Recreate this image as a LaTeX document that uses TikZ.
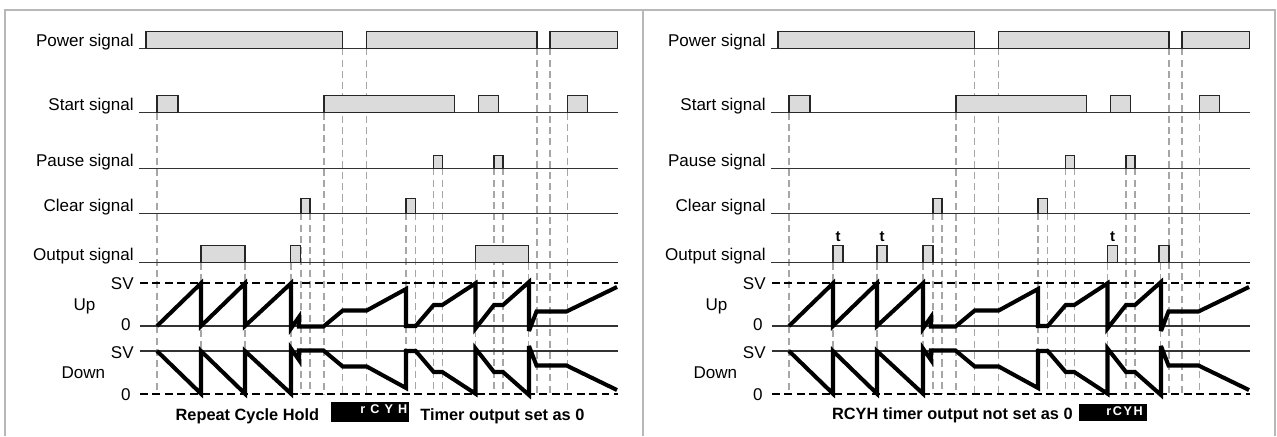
\documentclass[tikz,border=0pt]{standalone}
\usepackage{fontspec}
\setmainfont{Liberation Sans}
\newfontfamily\segfont{Liberation Sans}
% counter path of the up-counting timer (reference panel coordinates, in px)
\def\upcount{(157,326) -- (201,283.3) -- (201,326) -- (245,283.3) -- (245,326) -- (291,283.3) -- (291,328.5) -- (299,317) -- (299,326.5) -- (323.5,326.5) -- (342.7,310.5) -- (366.7,310.5) -- (406,289) -- (406,326) -- (415.7,326) -- (433.7,305) -- (442.3,305) -- (475.5,283.3) -- (475.5,328.5) -- (494,305) -- (503,305) -- (529,282) -- (529,331) -- (536.5,311.5) -- (566.5,311.5) -- (617,287)}
\begin{document}
\begin{tikzpicture}[x=0.02cm, y=-0.02cm,
  every node/.style={font=\fontsize{9.7}{11}\selectfont, inner sep=0pt},
  frame/.style={draw=black!28, line width=1.1pt},
  sig/.style={draw=black!80, line width=0.8pt},
  pulse/.style={draw=black!85, fill=black!14, line width=0.8pt},
  guide/.style={draw=black!35, line width=0.85pt, dash pattern=on 4pt off 2.4pt},
  level/.style={draw=black, line width=1.1pt, dash pattern=on 4.5pt off 2.6pt},
  count/.style={draw=black, line width=2.3pt, line join=miter, miter limit=4},
  capt/.style={font=\fontsize{9.3}{11}\selectfont\bfseries, anchor=base west},
  seg/.style={font=\fontsize{7.2}{8}\segfont\bfseries, text=white, anchor=north east}]
\useasboundingbox (0,0) rectangle (1277,436);
% outer frame and divider
\draw[frame] (5,436) -- (5,10) -- (1275,10) -- (1275,436);
\draw[frame] (643.3,10) -- (643.3,436);
% parts shared by both panels
\foreach \px in {0,632}{
\begin{scope}[shift={(\px,0)}]
  % guide lines down from the signal edges
  \foreach \gx/\gy in {157/112.7, 201/262.7, 245/262.7, 291/262.7, 301/213.3, 310/213.3, 324/112.7,
      342.7/48.3, 366.7/48.3, 406/213.3, 415.7/213.3, 433.7/168.3, 442.3/168.3, 475.5/262.7,
      494/168.3, 503/168.3, 528.5/262.7, 537/48.3, 550/48.3, 567.3/112.7}
    \draw[guide] (\gx,\gy) -- (\gx,394.3);
  % signal rows
  \foreach \nm/\lab/\yb in {pw/Power/48.3, st/Start/112.7, ps/Pause/168.3, cl/Clear/213.3, out/Output/262.7}{
    \node[anchor=base east] (\nm\px) at (134,\yb-2) {\lab\ signal};
    \draw[sig] (139,\yb) -- (618,\yb);}
  \foreach \ya/\yb/\xa/\xb in {31.7/48.3/146/342.7, 31.7/48.3/366.7/537, 31.7/48.3/550/617.3,
      95.7/112.7/157/178, 95.7/112.7/324/454.3, 95.7/112.7/478.3/498.3, 95.7/112.7/567.3/587.3,
      155.3/168.3/433.7/442.3, 155.3/168.3/494/503,
      198.3/213.3/301/310, 198.3/213.3/406/415.7}
    \draw[pulse] (\xa,\yb) rectangle (\xb,\ya);
  % counter levels
  \node[anchor=east] (svu\px) at (134,283.3) {SV};
  \node (up\px) at (84.5,306.7) {Up};
  \node[anchor=east] (zu\px) at (131,325) {0};
  \draw[level] (140,283.3) -- (618,283.3);
  \draw[sig] (140,326) -- (618,326);
  \node[anchor=east] (svd\px) at (134,353) {SV};
  \node (dn\px) at (83.3,372.7) {Down};
  \node[anchor=east] (zd\px) at (131,395) {0};
  \draw[sig] (140,351) -- (618,351);
  \draw[level] (140,394.3) -- (618,394.3);
  \draw[count] \upcount;
  \begin{scope}[shift={(0,677)}, yscale=-1]
    \draw[count] \upcount;
  \end{scope}
\end{scope}}
% left panel: output held over the cycle
\foreach \xa/\xb in {201/245, 290.7/300.3, 475.5/528.5}
  \draw[pulse] (\xa,262.7) rectangle (\xb,245.7);
\node[capt, anchor=base east] (rch) at (319.5,420.5) {Repeat Cycle Hold};
\fill (331,402.3) rectangle (408.7,422.3);
\node[seg] (segL) at (407.5,404.5) {\addfontfeatures{LetterSpace=40}rCYH};
\node[capt] (setz) at (420,420.5) {Timer output set as 0};
% right panel: output pulses of time t
\begin{scope}[shift={(632,0)}]
  \foreach \xa/\xb in {201/211, 245/255, 291/301, 475.5/485.5, 527/537}
    \draw[pulse] (\xa,262.7) rectangle (\xb,245.7);
  \foreach \nm/\tx in {ta/206, tb/250, tc/480.5}
    \node[font=\fontsize{8.5}{10}\selectfont\bfseries, anchor=base] (\nm) at (\tx,241.5) {t};
\end{scope}
\node[capt] (nset) at (831.7,419.5) {RCYH timer output not set as 0};
\fill (1079.3,404) rectangle (1146.7,421);
\node[seg] (segR) at (1143,406) {\addfontfeatures{LetterSpace=12}rCYH};
\end{tikzpicture}
\end{document}
